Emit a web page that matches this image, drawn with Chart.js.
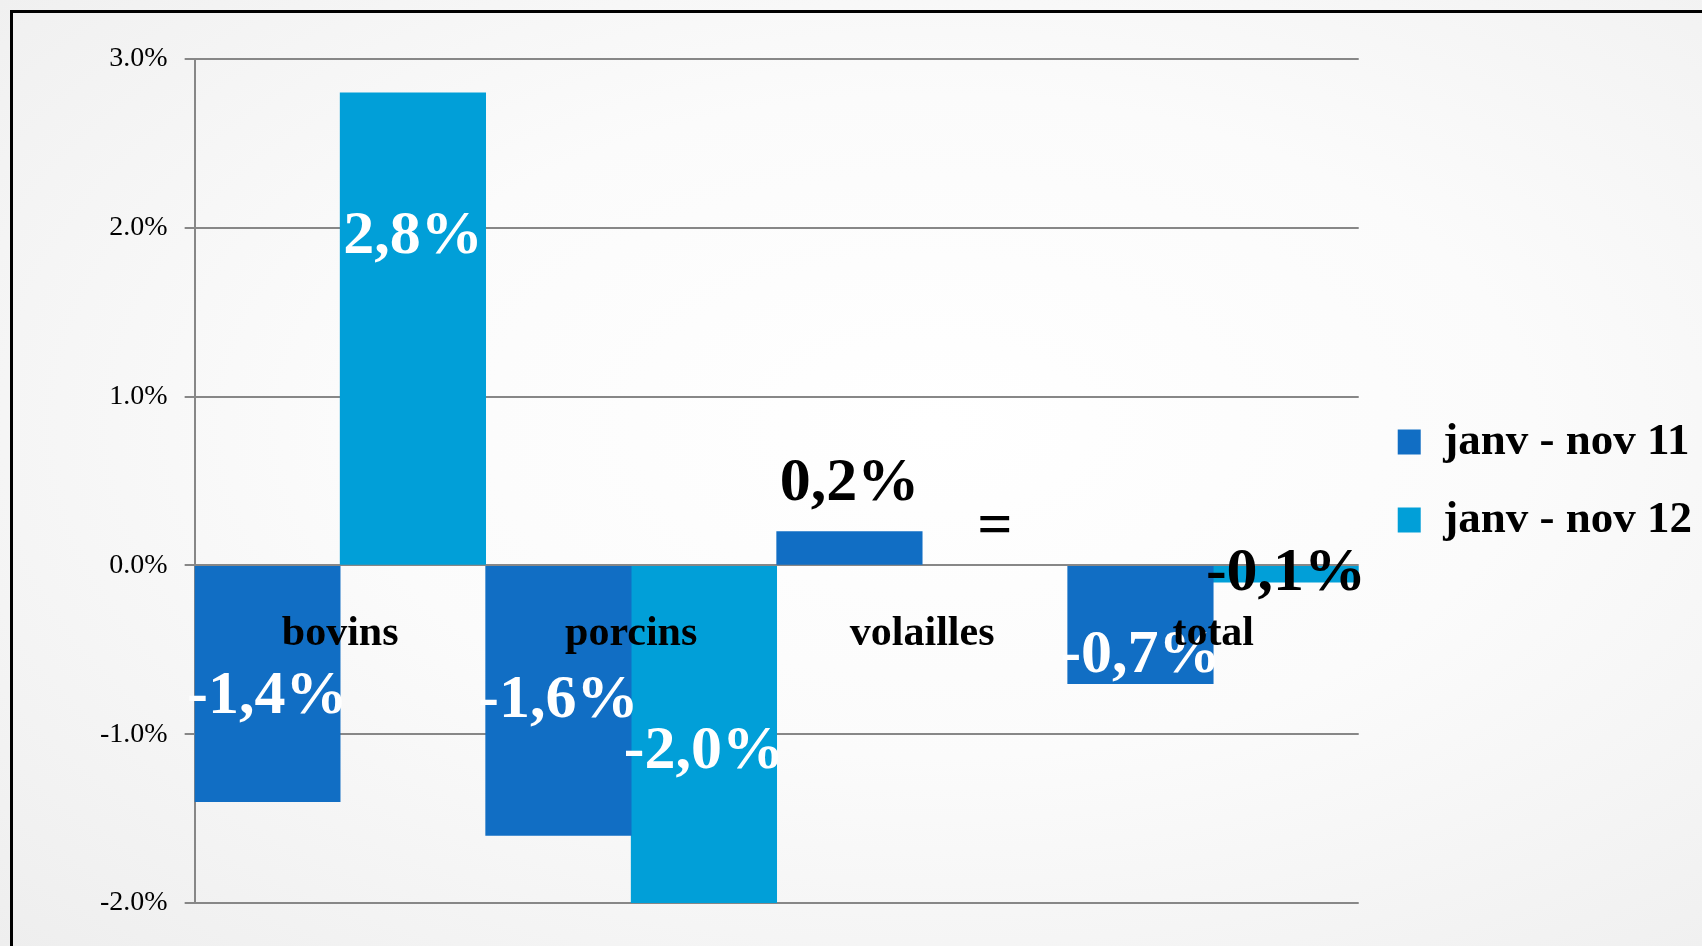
<!DOCTYPE html>
<html>
<head>
<meta charset="utf-8">
<script src="https://cdn.jsdelivr.net/npm/chart.js@4.4.1/dist/chart.umd.min.js"></script>
<style>
  html, body { margin: 0; padding: 0; }
  body {
    width: 1702px; height: 946px; overflow: hidden;
    background: radial-gradient(ellipse at 55% 45%, #ffffff 0%, #fbfbfb 45%, #eeeeee 100%);
  }
  #frame {
    position: absolute; left: 10px; top: 10px; right: 0; bottom: 0;
    border-top: 3px solid #000; border-left: 3px solid #000;
  }
  #wrap { position: absolute; left: 0; top: 0; width: 1702px; height: 946px; }
</style>
</head>
<body>
<div id="frame"></div>
<div id="wrap"><canvas id="chart"></canvas></div>
<script>
const categories = ['bovins', 'porcins', 'volailles', 'total'];
const seriesNames = ['janv - nov 11', 'janv - nov 12'];
const nov11 = [-1.4, -1.6, 0.2, -0.7];
const nov12 = [2.8, -2.0, 0, -0.1];
const yTicks = [-2, -1, 0, 1, 2, 3];

const serif = '"Liberation Serif", "Times New Roman", serif';
const gridGrey = '#878787';
const colors = ['#116ec4', '#019fd8'];

function fmtValue(v) {
    if (v === 0) return '=';
    return v.toFixed(1).replace('.', ',') + '%';
}

// zero values get no visible bar, only the "=" label
function barColor(i) {
    return c => (c.raw === 0 ? 'rgba(0,0,0,0)' : colors[i]);
}

// draws the value labels on the bars
const valueLabels = {
    id: 'valueLabels',
    afterDatasetsDraw(chart, args, opts) {
        const ctx = chart.ctx;
        const y0 = chart.scales.y.getPixelForValue(0);
        ctx.save();
        ctx.font = 'bold 62px ' + serif;
        ctx.textAlign = 'center';
        ctx.textBaseline = 'middle';
        chart.data.datasets.forEach((ds, di) => {
            const meta = chart.getDatasetMeta(di);
            meta.data.forEach((bar, i) => {
                const v = ds.data[i];
                const small = Math.abs(v) < 0.5;
                let y = (bar.y + bar.base) / 2;
                if (small && v > 0) y = bar.y - opts.above;
                if (v === 0) y = y0 - opts.aboveZero;
                y += opts.shift[di + '-' + i] || 0;
                ctx.fillStyle = small ? '#000' : '#fff';
                ctx.fillText(fmtValue(v), bar.x, y);
            });
        });
        ctx.restore();
    }
};

const ctx = document.getElementById('chart').getContext('2d');

new Chart(ctx, {
    type: 'bar',
    data: {
        labels: categories,
        datasets: [
            { label: seriesNames[0], data: nov11, backgroundColor: barColor(0) },
            { label: seriesNames[1], data: nov12, backgroundColor: barColor(1) }
        ]
    },
    plugins: [valueLabels],
    options: {
        responsive: true,
        maintainAspectRatio: false,
        animation: false,
        datasets: { bar: { categoryPercentage: 1, barPercentage: 1 } },
        layout: { padding: { top: 59, bottom: 43, left: 83, right: 0 } },
        scales: {
            x: {
                position: { y: 0 },
                grid: { display: false, drawTicks: false },
                border: { display: false },
                ticks: {
                    z: 1,
                    padding: 44,
                    color: '#000',
                    font: { family: serif, size: 42, weight: 'bold' }
                }
            },
            y: {
                min: -2,
                max: 3,
                afterBuildTicks: axis => { axis.ticks = yTicks.map(v => ({ value: v })); },
                grid: { color: gridGrey, lineWidth: 2, tickLength: 10 },
                border: { color: gridGrey, width: 2 },
                ticks: {
                    padding: 17,
                    color: '#000',
                    font: { family: serif, size: 28 },
                    callback: v => v.toFixed(1) + '%'
                }
            },
            // empty spacer between plot and legend
            gap: {
                type: 'linear',
                position: 'right',
                grid: { display: false },
                border: { display: false },
                ticks: { display: false },
                afterFit: s => { s.width = 6; }
            }
        },
        plugins: {
            tooltip: { enabled: false },
            legend: {
                position: 'right',
                maxWidth: 400,
                labels: {
                    boxWidth: 23,
                    boxHeight: 25,
                    padding: 33,
                    color: '#000',
                    font: { family: serif, size: 45, weight: 'bold' }
                }
            },
            valueLabels: {
                above: 48,
                aboveZero: 37,
                shift: { '0-0': 13, '1-0': -92, '1-1': 17, '0-3': 31 }
            }
        }
    }
});
</script>
</body>
</html>
